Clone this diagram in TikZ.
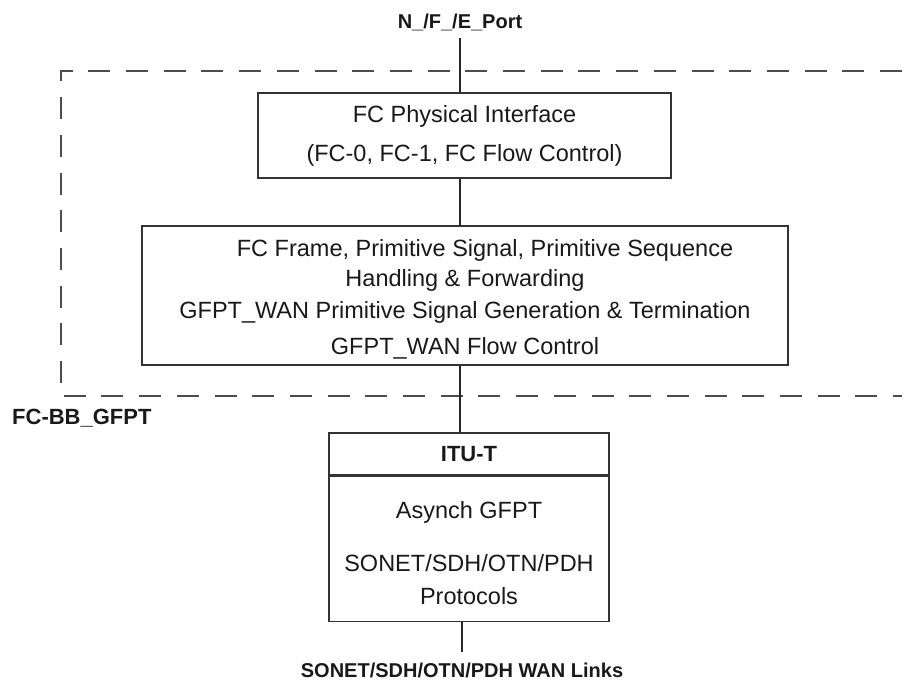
\documentclass[tikz,border=0pt]{standalone}
\usepackage{fontspec}
\setmainfont{Liberation Sans}

\begin{document}
\begin{tikzpicture}[x=1pt,y=-1pt]
  \tikzset{BoxStyle/.style={draw=black!80,line width=1.5pt,align=center,inner sep=0pt,
      text=black!90,font=\fontsize{23.5}{30}\selectfont},
    LinkStyle/.style={black!85,line width=2.5pt},
    BorderStyle/.style={black!70,line width=2pt,dash pattern=on 22pt off 15.7pt},
    LabelStyle/.style={text=black!90,inner sep=0pt,font=\fontsize{20}{24}\selectfont\bfseries}
  }
  \useasboundingbox (0,0) rectangle (917,683);
  % dashed FC-BB_GFPT border, open on the right
  \draw[BorderStyle] (902,71) -- (61,71) -- (61,396) -- (902,396);
  \node[LabelStyle,anchor=west,font=\fontsize{22}{24}\selectfont\bfseries] (bbname) at (12,418) {FC-BB\_GFPT};
  \node[LabelStyle] (port) at (460,22) {N\_/F\_/E\_Port};
  \node[BoxStyle,minimum width=413pt,minimum height=85pt,
    font=\fontsize{23.5}{39}\selectfont] (phys) at (464.5,135.5)
    {FC Physical Interface\\(FC-0, FC-1, FC Flow Control)};
  \node[BoxStyle,minimum width=646pt,minimum height=139pt] (frame) at (465,295.5)
    {\rule{0pt}{25pt}\hspace*{40pt}FC Frame, Primitive Signal, Primitive Sequence\\
     Handling \& Forwarding\\[2pt]
     GFPT\_WAN Primitive Signal Generation \& Termination\\[6pt]
     GFPT\_WAN Flow Control};
  \node[BoxStyle,minimum width=280pt,minimum height=42pt,
    font=\fontsize{22}{26}\selectfont\bfseries] (itu) at (469,454) {ITU-T};
  \node[BoxStyle,minimum width=280pt,minimum height=145pt,anchor=north,
    font=\fontsize{23.5}{33}\selectfont] (itubody) at (itu.south)
    {\rule{0pt}{26pt}Asynch GFPT\\[20pt]SONET/SDH/OTN/PDH\\Protocols};
  \node[LabelStyle] (links) at (462,670) {SONET/SDH/OTN/PDH WAN Links};
  % connectors
  \draw[LinkStyle] (port.south) ++(0,7) -- (port |- phys.north);
  \draw[LinkStyle] (phys.south -| port) -- (port |- frame.north);
  \draw[LinkStyle] (frame.south -| port) -- (port |- itu.north);
  \draw[LinkStyle] (itubody.south -| links) -- ++(0,30);
\end{tikzpicture}
\end{document}
